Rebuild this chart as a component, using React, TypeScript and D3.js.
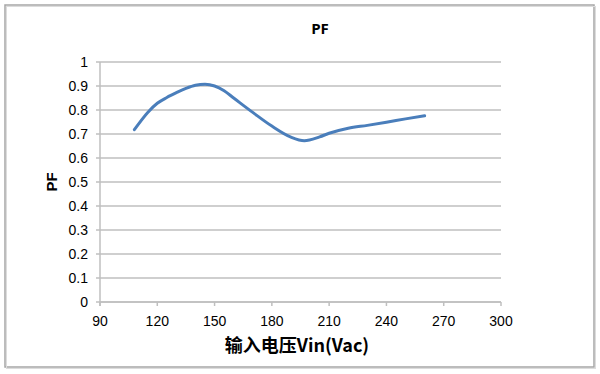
import React from 'react'
import * as d3 from 'd3'

// PF vs input voltage
const vin = [108, 115, 120, 125, 130, 135, 140, 145, 150, 155, 160, 170, 180, 190, 197, 205, 210, 220, 230, 240, 250, 260]
const pf = [0.718, 0.79, 0.828, 0.852, 0.872, 0.89, 0.903, 0.907, 0.9, 0.88, 0.85, 0.79, 0.733, 0.687, 0.672, 0.688, 0.703, 0.724, 0.736, 0.749, 0.763, 0.776]

const xTicks = [90, 120, 150, 180, 210, 240, 270, 300]
const yTicks = [0, 0.1, 0.2, 0.3, 0.4, 0.5, 0.6, 0.7, 0.8, 0.9, 1]

const W = 600
const H = 374
const margin = { top: 62, right: 99, bottom: 72, left: 100 }

const App = () => {
  const x = d3
    .scaleLinear()
    .domain([90, 300])
    .range([margin.left, W - margin.right])
  const y = d3
    .scaleLinear()
    .domain([0, 1])
    .range([H - margin.bottom, margin.top])

  const pts = vin.map((v, i) => [v, pf[i]] as [number, number])
  const line = d3
    .line<[number, number]>()
    .x((d) => x(d[0]))
    .y((d) => y(d[1]))
    .curve(d3.curveMonotoneX)

  const font = '"Liberation Sans", Arial, sans-serif'
  const x0 = x(90)
  const x1 = x(300)
  const y0 = y(0)

  return (
    <svg
      width={W}
      height={H}
      style={{ position: 'absolute', left: 0, top: 0, background: '#fff' }}
    >
      {/* chart frame */}
      <rect x={5} y={5} width={589} height={362} fill="#fff" stroke="#a6a6a6" strokeWidth={1.5} />
      <rect x={6.5} y={6.5} width={589} height={362} fill="none" stroke="#dcdcdc" strokeWidth={1} />

      <text x={320} y={34} textAnchor="middle" fontFamily='"Open Sans", sans-serif' fontWeight="bold" fontSize={15} fill="#000">
        PF
      </text>

      {/* gridlines */}
      {yTicks.map((t) => (
        <line key={'g' + t} x1={x0 - 4} x2={x1} y1={y(t)} y2={y(t)} stroke="#bfbfbf" strokeWidth={1.5} />
      ))}
      {/* axes */}
      <line x1={x0} x2={x0} y1={y(1)} y2={y0 + 4} stroke="#bfbfbf" strokeWidth={1.5} />
      <line x1={x0} x2={x1} y1={y0} y2={y0} stroke="#bfbfbf" strokeWidth={1.5} />
      {xTicks.map((t) => (
        <line key={'xt' + t} x1={x(t)} x2={x(t)} y1={y0} y2={y0 + 4} stroke="#bfbfbf" strokeWidth={1.5} />
      ))}

      {yTicks.map((t) => (
        <text key={'yl' + t} x={x0 - 12} y={y(t)} dy="0.35em" textAnchor="end" fontFamily={font} fontSize={14} fill="#000">
          {d3.format('~g')(t)}
        </text>
      ))}
      {xTicks.map((t) => (
        <text key={'xl' + t} x={x(t)} y={y0 + 24} textAnchor="middle" fontFamily={font} fontSize={14} fill="#000">
          {t}
        </text>
      ))}

      <text
        transform={`translate(57,${y(0.5)}) rotate(-90)`}
        textAnchor="middle"
        fontFamily={font}
        fontWeight="bold"
        fontSize={15}
        fill="#000"
      >
        PF
      </text>
      <text x={297} y={352} textAnchor="middle" fontFamily='"Noto Sans CJK SC", sans-serif' fontWeight="bold" fontSize={18} fill="#000">
        输入电压Vin(Vac)
      </text>

      <path d={line(pts) || ''} fill="none" stroke="#4a7ebb" strokeWidth={3} strokeLinecap="round" />
    </svg>
  )
}

export default App
